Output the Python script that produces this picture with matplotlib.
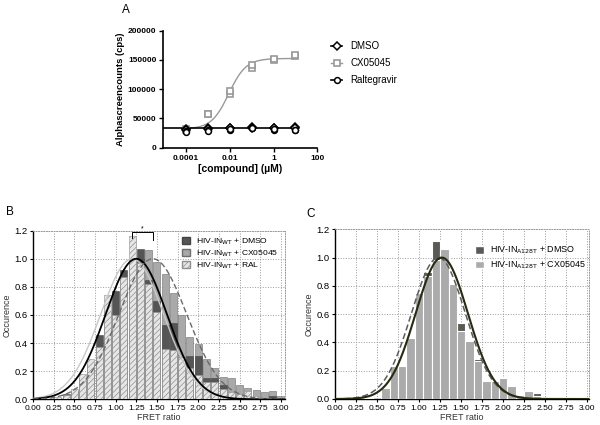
import numpy as np
import matplotlib
matplotlib.use("Agg")
import matplotlib.pyplot as plt
from matplotlib.patches import Patch
from matplotlib.lines import Line2D

plt.rcParams['font.family'] = ['Liberation Sans', 'DejaVu Sans']
plt.rcParams['hatch.linewidth'] = 0.5

# ---------------- Panel A data ----------------
conc = [0.0001, 0.001, 0.01, 0.1, 1, 10]
dmso_a1 = [32000, 33000, 34000, 35000, 34000, 35000]
dmso_a2 = [31000, 32000, 33000, 34000, 33000, 33000]
cx_a1 = [32000, 57000, 92000, 136000, 150000, 157000]
cx_a2 = [30000, 57000, 97000, 142000, 151000, 158000]
ral_a1 = [29000, 30000, 31000, 33000, 31000, 30000]
ral_a2 = [27000, 29000, 32000, 34000, 32000, 31000]
# fitted curve parameters
cx_bottom, cx_top, cx_ec50, cx_hill = 32000, 152500, 0.009, 1.1
flat_level = 33500

# ---------------- Panel B data ----------------
b_bins = [0.2, 0.3, 0.4, 0.5, 0.6, 0.7, 0.8, 0.9, 1.0, 1.1, 1.2, 1.3, 1.4, 1.5,
          1.6, 1.7, 1.8, 1.9, 2.0, 2.1, 2.2, 2.3, 2.4, 2.5, 2.6, 2.7, 2.8, 2.9, 3.0]
b_cx = [0.01, 0.01, 0.02, 0.05, 0.12, 0.20, 0.30, 0.50, 0.58, 0.80, 0.95, 1.00, 1.06, 0.98,
        0.89, 0.76, 0.60, 0.44, 0.39, 0.29, 0.22, 0.16, 0.15, 0.10, 0.08, 0.065, 0.055, 0.06, 0.025]
b_dmso = [0.01, 0.01, 0.04, 0.06, 0.15, 0.25, 0.46, 0.62, 0.77, 0.92, 1.00, 1.07, 0.85, 0.70,
          0.53, 0.54, 0.30, 0.31, 0.31, 0.15, 0.155, 0.105, 0.03, 0.02, 0.02, 0.01, 0.01, 0.02, 0.01]
b_ral = [0.02, 0.015, 0.03, 0.07, 0.18, 0.285, 0.375, 0.74, 0.60, 0.87, 1.16, 0.97, 0.82, 0.62,
         0.36, 0.35, 0.30, 0.22, 0.17, 0.12, 0.12, 0.07, 0.05, 0.04, 0.06, 0.02, 0.01, 0.01, 0.01]
# gaussian fit parameters (mu, sigma)
b_fit_dmso = (1.25, 0.37)
b_fit_cx = (1.45, 0.41)
b_fit_ral = (1.20, 0.38)

# ---------------- Panel C data ----------------
c_bins = [0.4, 0.5, 0.6, 0.7, 0.8, 0.9, 1.0, 1.1, 1.2, 1.3, 1.4, 1.5, 1.6, 1.7,
          1.8, 1.9, 2.0, 2.1, 2.2, 2.3, 2.4, 2.5, 2.6, 2.7, 2.8]
c_dmso = [0.01, 0.0, 0.07, 0.22, 0.22, 0.42, 0.74, 0.90, 1.12, 1.02, 0.78, 0.54, 0.40, 0.28,
          0.12, 0.12, 0.14, 0.08, 0.035, 0.05, 0.04, 0.0, 0.005, 0.0, 0.005]
c_cx = [0.01, 0.0, 0.08, 0.23, 0.23, 0.43, 0.75, 0.87, 0.98, 1.06, 0.81, 0.48, 0.41, 0.27,
        0.13, 0.13, 0.15, 0.09, 0.025, 0.06, 0.02, 0.0, 0.005, 0.0, 0.005]
c_fit_dmso = (1.27, 0.31)
c_fit_cx = (1.23, 0.32)

x_ticks = [0.0, 0.25, 0.5, 0.75, 1.0, 1.25, 1.5, 1.75, 2.0, 2.25, 2.5, 2.75, 3.0]
y_ticks = [0.0, 0.2, 0.4, 0.6, 0.8, 1.0, 1.2]

fig = plt.figure(figsize=(6, 4.25), dpi=100)

# ================= Panel A =================
axA = fig.add_axes([0.2722, 0.6525, 0.2567, 0.2753])
xs = np.logspace(-4, 1, 300)
cx_curve = cx_bottom + (cx_top - cx_bottom) / (1 + (cx_ec50 / xs) ** cx_hill)
axA.plot(xs, cx_curve, color='#999999', lw=1.0, zorder=2)
axA.plot([9.2e-6, 10], [flat_level, flat_level], color='black', lw=1.2, zorder=2)
for ys in (cx_a1, cx_a2):
    axA.plot(conc, ys, ls='none', marker='s', ms=4.8, mfc='white', mec='#999999', mew=1.2, zorder=3)
for ys in (dmso_a1, dmso_a2):
    axA.plot(conc, ys, ls='none', marker='D', ms=3.6, mfc='white', mec='black', mew=1.1, zorder=4)
for ys in (ral_a1, ral_a2):
    axA.plot(conc, ys, ls='none', marker='o', ms=4.2, mfc='white', mec='black', mew=1.1, zorder=4)
axA.set_xscale('log')
axA.set_xlim(9.2e-6, 100)
axA.set_ylim(0, 200000)
axA.set_xticks([0.0001, 0.01, 1, 100])
axA.set_xticklabels(['0.0001', '0.01', '1', '100'])
axA.xaxis.set_minor_locator(matplotlib.ticker.NullLocator())
axA.set_yticks([0, 50000, 100000, 150000, 200000])
axA.set_yticklabels(['0', '50000', '100000', '150000', '200000'])
for s in ('top', 'right'):
    axA.spines[s].set_visible(False)
for s in ('left', 'bottom'):
    axA.spines[s].set_linewidth(1.2)
axA.tick_params(labelsize=6, width=1.0, length=3, pad=2)
for lab in axA.get_xticklabels() + axA.get_yticklabels():
    lab.set_fontweight('bold')
axA.set_xlabel('[compound] (µM)', fontsize=7.5, fontweight='bold', labelpad=2)
axA.set_ylabel('Alphascreencounts (cps)', fontsize=6.8, fontweight='bold', labelpad=2)
hA = [Line2D([], [], color='black', marker='D', ms=3.6, mfc='white', mec='black', mew=1.1, lw=1.2),
      Line2D([], [], color='#999999', marker='s', ms=4.8, mfc='white', mec='#999999', mew=1.2, lw=1.0),
      Line2D([], [], color='black', marker='o', ms=4.2, mfc='white', mec='black', mew=1.1, lw=1.2)]
axA.legend(hA, ['DMSO', 'CX05045', 'Raltegravir'], loc='upper left', bbox_to_anchor=(1.03, 0.985),
           frameon=False, fontsize=7, handlelength=1.2, handletextpad=0.8, labelspacing=0.72)
fig.text(122 / 600, 1 - 13 / 425, 'A', fontsize=8.5, ha='left', va='baseline')

# ================= Panel B =================
def style_hist(ax, xmax):
    ax.set_xlim(0, xmax)
    ax.set_ylim(0, 1.2)
    ax.set_xticks(x_ticks)
    ax.set_xticklabels(['%.2f' % t for t in x_ticks])
    ax.set_yticks(y_ticks)
    ax.set_yticklabels(['%.1f' % t for t in y_ticks])
    ax.grid(True, ls=':', color='#9a9a9a', lw=0.7)
    ax.set_axisbelow(True)
    for s in ('top', 'right'):
        ax.spines[s].set_linestyle(':')
        ax.spines[s].set_color('#9a9a9a')
        ax.spines[s].set_linewidth(0.7)
    for s in ('left', 'bottom'):
        ax.spines[s].set_linewidth(1.0)
    ax.tick_params(axis='x', labelsize=6.1, length=2.5, width=0.8, pad=1.5)
    ax.tick_params(axis='y', labelsize=6.8, length=2.5, width=0.8, pad=1.5)
    ax.set_xlabel('FRET ratio', fontsize=6.5, labelpad=1, color='#333333')
    ax.set_ylabel('Occurence', fontsize=6.5, labelpad=2, color='#333333')

axB = fig.add_axes([0.055, 0.0605, 0.42, 0.3967])
bw = 0.085
axB.bar(b_bins, b_cx, width=bw, color='#a9a9a9', edgecolor='#6e6e6e', lw=0.4, zorder=2)
axB.bar(b_bins, b_dmso, width=bw, color='#555555', edgecolor='#444444', lw=0.4, zorder=3)
axB.bar(b_bins, b_ral, width=bw, color='#e6e6e6', edgecolor='#8f8f8f', hatch='//////', lw=0.4, zorder=4)
xg = np.linspace(0, 3.05, 400)
for (mu, sg), col, ls, lw in ((b_fit_ral, '#c8c8c8', '-', 1.0),
                              (b_fit_dmso, 'black', '-', 1.3),
                              (b_fit_cx, '#6a6a6a', (0, (4, 2)), 1.0)):
    axB.plot(xg, np.exp(-(xg - mu) ** 2 / (2 * sg ** 2)), color=col, ls=ls, lw=lw, zorder=5)
axB.plot([1.2, 1.2, 1.45, 1.45], [1.15, 1.19, 1.19, 1.135], color='black', lw=0.7, zorder=6)
axB.text(1.32, 1.185, '*', fontsize=5, ha='center', va='bottom')
style_hist(axB, 3.05)
hB = [Patch(facecolor='#555555', edgecolor='#444444'),
      Patch(facecolor='#a9a9a9', edgecolor='#6e6e6e'),
      Patch(facecolor='#e6e6e6', edgecolor='#8f8f8f', hatch='//////')]
axB.legend(hB, ['HIV-IN$_{\\mathrm{WT}}$ + DMSO', 'HIV-IN$_{\\mathrm{WT}}$ + CX05045',
                'HIV-IN$_{\\mathrm{WT}}$ + RAL'],
           loc='upper left', bbox_to_anchor=(0.56, 1.01), frameon=False, fontsize=6.1,
           handlelength=1.0, handleheight=0.9, handletextpad=0.7, labelspacing=0.18)
fig.text(6 / 600, 1 - 215 / 425, 'B', fontsize=8.5, ha='left', va='baseline')

# ================= Panel C =================
axC = fig.add_axes([0.5583, 0.0612, 0.4233, 0.3993])
axC.bar(c_bins, c_dmso, width=0.1, color='#5a5a55', edgecolor='white', lw=0.8, zorder=2)
axC.bar(c_bins, c_cx, width=0.1, color='#ababab', edgecolor='white', lw=0.8, zorder=3)
xg = np.linspace(0, 3.02, 400)
axC.plot(xg, np.exp(-(xg - c_fit_cx[0]) ** 2 / (2 * c_fit_cx[1] ** 2)), color='#5c5c5c',
         ls=(0, (4, 2)), lw=1.1, zorder=5)
axC.plot(xg, np.exp(-(xg - c_fit_dmso[0]) ** 2 / (2 * c_fit_dmso[1] ** 2)), color='#2a2a12',
         lw=1.5, zorder=6)
style_hist(axC, 3.02)
hC = [Patch(facecolor='#5a5a55', edgecolor='white'), Patch(facecolor='#ababab', edgecolor='white')]
axC.legend(hC, ['HIV-IN$_{\\mathrm{A128T}}$ + DMSO', 'HIV-IN$_{\\mathrm{A128T}}$ + CX05045'],
           loc='upper left', bbox_to_anchor=(0.52, 0.955), frameon=False, fontsize=6.4,
           handlelength=1.0, handleheight=0.9, handletextpad=0.7, labelspacing=0.35)
fig.text(306 / 600, 1 - 217 / 425, 'C', fontsize=8.5, ha='left', va='baseline')

fig.savefig('out.png', dpi=100, facecolor='white')
